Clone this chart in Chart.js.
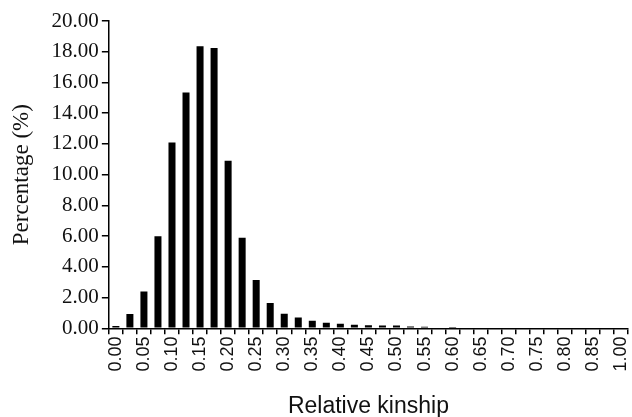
<!DOCTYPE html>
<html>
<head>
<meta charset="utf-8">
<script src="https://cdn.jsdelivr.net/npm/chart.js@4"></script>
<style>
  html, body { margin: 0; padding: 0; background: #fff; }
  #wrap { width: 632px; height: 417px; position: relative; }
</style>
</head>
<body>
<div id="wrap"><canvas id="chart"></canvas></div>
<script>
// kinship classes (labels shown on every other bar)
const kinshipClasses = [
  '0.00', '0.025', '0.05', '0.075', '0.10', '0.125', '0.15', '0.175', '0.20', '0.225',
  '0.25', '0.275', '0.30', '0.325', '0.35', '0.375', '0.40', '0.425', '0.45', '0.475',
  '0.50', '0.525', '0.55', '0.575', '0.60', '0.625', '0.65', '0.675', '0.70', '0.725',
  '0.75', '0.775', '0.80', '0.825', '0.85', '0.875', '1.00'
];
const percentages = [
  0.15, 0.93, 2.4, 6.0, 12.1, 15.35, 18.35, 18.25, 10.9, 5.9,
  3.15, 1.65, 0.95, 0.7, 0.5, 0.37, 0.3, 0.24, 0.2, 0.18,
  0.18, 0.12, 0.1, 0.05, 0.03, 0, 0, 0, 0, 0,
  0, 0, 0, 0, 0, 0, 0
];
const yTicks = [0, 2, 4, 6, 8, 10, 12, 14, 16, 18, 20];

const ctx = document.getElementById('chart');
new Chart(ctx, {
  type: 'bar',
  data: {
    labels: kinshipClasses,
    datasets: [{
      data: percentages,
      backgroundColor: '#000',
      borderWidth: 0,
      barPercentage: 0.5,
      categoryPercentage: 1.0
    }]
  },
  options: {
    responsive: true,
    maintainAspectRatio: false,
    animation: false,
    layout: { padding: { top: 21, right: 4, left: 8, bottom: -3 } },
    plugins: { legend: { display: false }, tooltip: { enabled: false } },
    scales: {
      x: {
        afterFit: function (axis) { axis.paddingRight = 0; },
        grid: { offset: true, drawOnChartArea: false, drawTicks: true, tickLength: 6, color: '#000', lineWidth: 1.5 },
        border: { color: '#000', width: 1.5 },
        ticks: {
          autoSkip: false,
          maxRotation: 90,
          minRotation: 90,
          padding: 2,
          color: '#111',
          font: { family: 'Liberation Sans', size: 18 },
          callback: function (v, i) { return i % 2 === 0 ? kinshipClasses[i] : ''; }
        },
        title: {
          display: true,
          text: 'Relative kinship',
          color: '#111',
          font: { family: 'Liberation Sans', size: 23 },
          padding: { top: 19, bottom: 0 }
        }
      },
      y: {
        min: 0,
        max: 20,
        afterBuildTicks: function (axis) { axis.ticks = yTicks.map(v => ({ value: v })); },
        grid: { drawOnChartArea: false, drawTicks: true, tickLength: 7, color: '#000', lineWidth: 1.5 },
        border: { color: '#000', width: 1.5 },
        ticks: {
          padding: 3,
          color: '#111',
          font: { family: 'Liberation Serif', size: 21 },
          callback: function (v) { return Number(v).toFixed(2); }
        },
        title: {
          display: true,
          text: 'Percentage (%)',
          color: '#111',
          font: { family: 'Liberation Serif', size: 23 },
          padding: { top: 0, bottom: 13 }
        }
      }
    }
  }
});
</script>
</body>
</html>
